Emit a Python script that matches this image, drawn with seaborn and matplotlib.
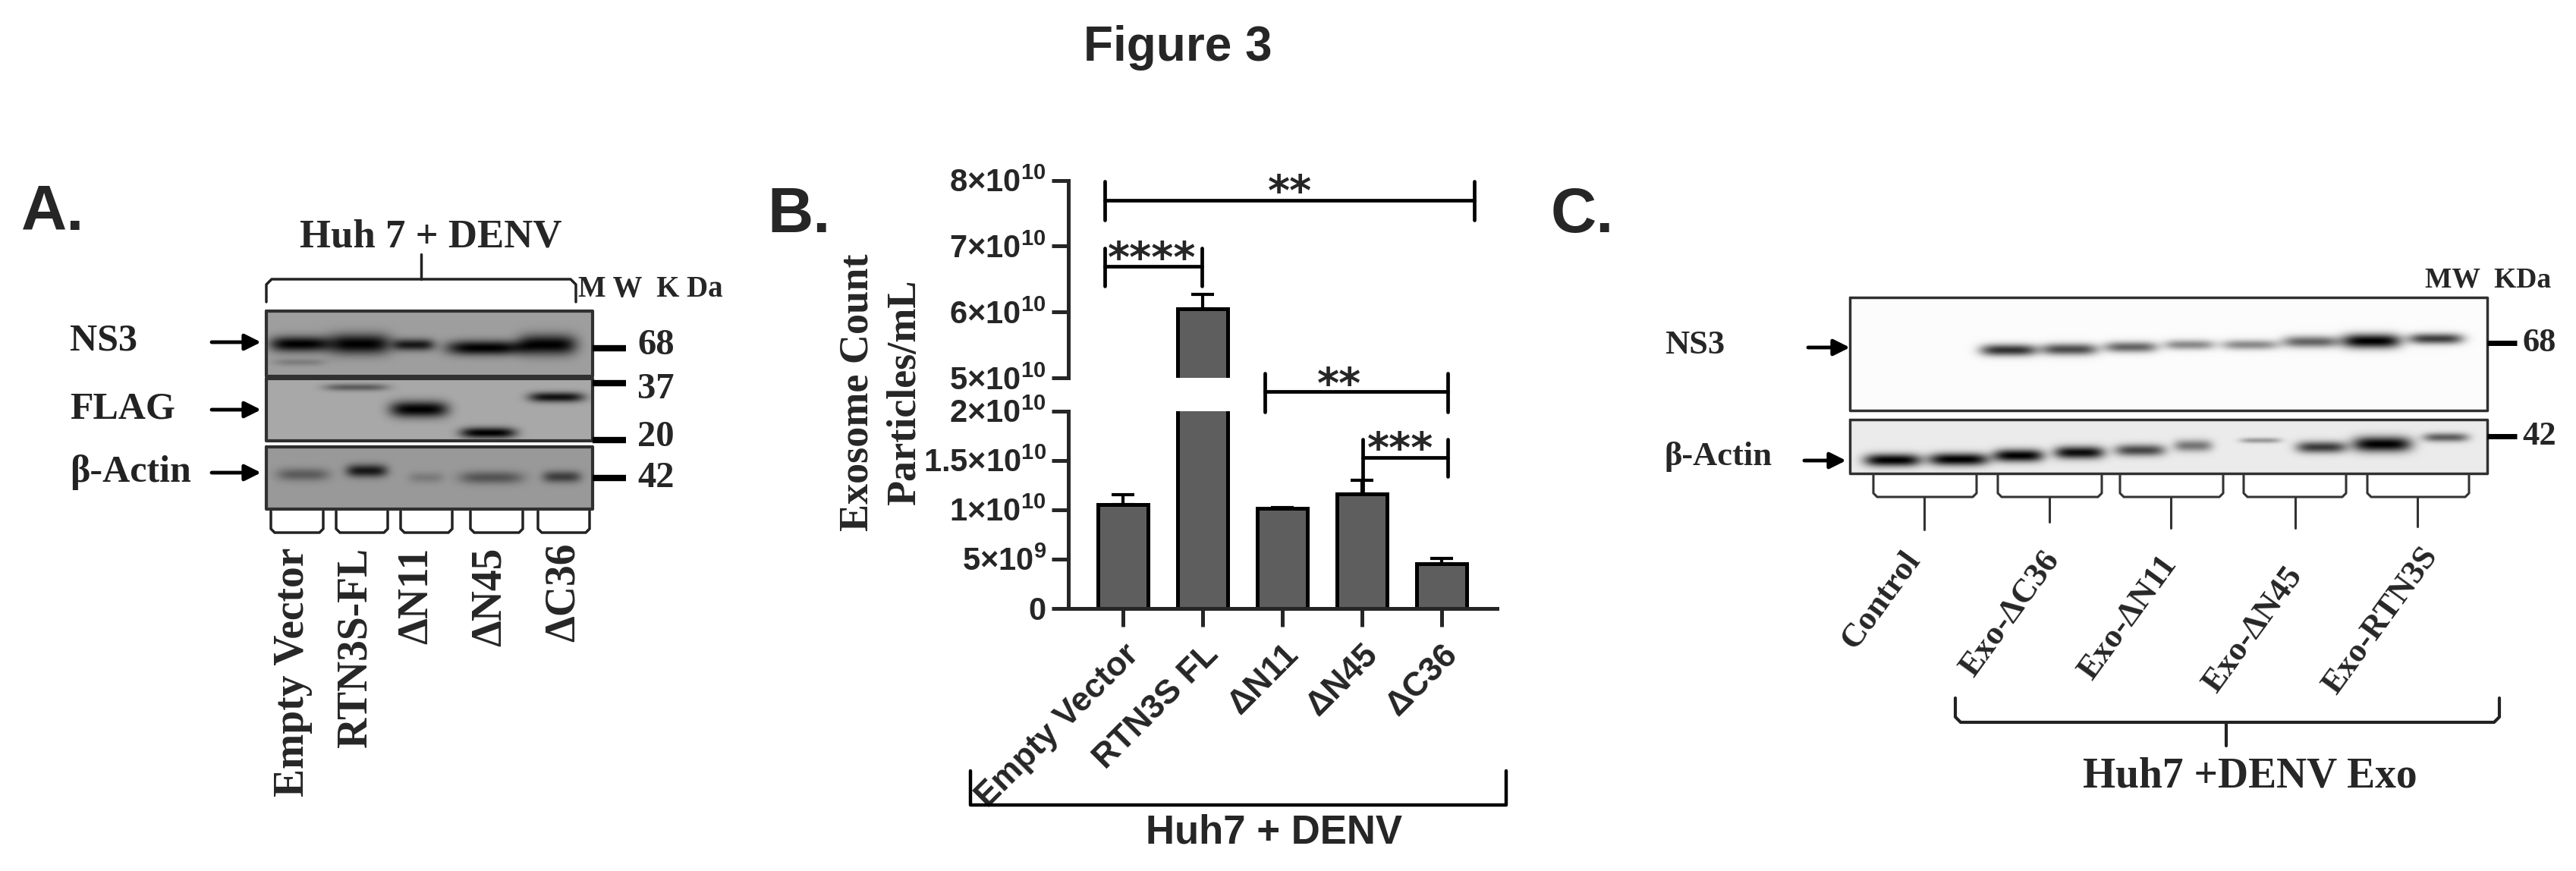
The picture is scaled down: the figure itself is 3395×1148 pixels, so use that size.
import numpy as np
import pandas as pd
import matplotlib
matplotlib.use("Agg")
import matplotlib.pyplot as plt
import seaborn as sns


OUTPUT_PATH = "out.png"
W, H = 3395, 1148

# Panel B values
groups = ["Empty Vector", "RTN3S FL", "ΔN11", "ΔN45", "ΔC36"]
exosome_mean = [1.047e10, 6.05e10, 1.01e10, 1.158e10, 0.45e10]
exosome_err = [0.103e10, 0.22e10, 0.01e10, 0.142e10, 0.057e10]

upper_ticks = [5e10, 6e10, 7e10, 8e10]
upper_labels = ["5×10^{10}", "6×10^{10}", "7×10^{10}", "8×10^{10}"]
lower_ticks = [0, 5e9, 1e10, 1.5e10, 2e10]
lower_labels = ["0", "5×10^{9}", "1×10^{10}", "1.5×10^{10}", "2×10^{10}"]

# Blot bands: x centre, y centre, width, height, darkness
a_ns3_bands = [(394, 453, 64, 17, 1), (473, 453, 70, 22, 1), (545, 454, 45, 13, .85),
               (638, 458, 83, 16, 1), (721, 454, 64, 22, 1), (394, 477, 57, 8, .2)]
a_flag_bands = [(469, 510, 70, 8, .45), (552, 539, 64, 18, 1),
                (643, 570, 61, 12, 1), (733, 523, 61, 11, .9)]
a_actin_bands = [(399, 625, 57, 14, .4), (483, 620, 45, 14, .85), (561, 629, 38, 12, .2),
                 (647, 629, 70, 14, .45), (740, 628, 42, 13, .6)]
c_ns3_bands = [(2647, 461, 62, 13, .8), (2727, 460, 62, 13, .7), (2808, 457, 58, 12, .6),
               (2885, 454, 55, 11, .45), (2965, 454, 62, 11, .45), (3045, 450, 62, 13, .6),
               (3125, 449, 65, 16, 1), (3210, 446, 60, 12, .75)]
c_actin_bands = [(2494, 606, 62, 14, 1), (2581, 605, 66, 14, 1), (2660, 600, 55, 14, 1),
                 (2740, 596, 55, 14, .95), (2820, 593, 55, 13, .7), (2890, 587, 42, 13, .5),
                 (2979, 580, 45, 6, .35), (3059, 589, 55, 13, .75), (3139, 585, 65, 17, 1),
                 (3223, 576, 50, 10, .6)]

a_lanes = ["Empty Vector", "RTN3S-FL", "ΔN11", "ΔN45", "ΔC36"]
c_lanes = ["Control", "Exo-ΔC36", "Exo-ΔN11", "Exo-ΔN45", "Exo-RTN3S"]

SANS = "Liberation Sans"
SERIF = ["Liberation Serif", "DejaVu Serif"]


def axes_px(fig, x0, y0, x1, y1):
    return fig.add_axes([x0 / W, 1 - y1 / H, (x1 - x0) / W, (y1 - y0) / H])


def draw_blot(ax, x0, y0, x1, y1, background, bands, edge="#303030", lw=3):
    xx, yy = np.meshgrid(np.arange(x0, x1), np.arange(y0, y1))
    ink = np.zeros_like(xx, dtype=float)
    for xc, yc, w, h, dark in bands:
        ink += dark * np.exp(-(((xx - xc) / (0.6 * w)) ** 4) - ((yy - yc) / (0.6 * h)) ** 2)
    img = background * (1 - np.clip(ink, 0, 1))
    ax.imshow(img, extent=(x0, x1, y1, y0), cmap="gray", vmin=0, vmax=1,
              aspect="auto", interpolation="bilinear", zorder=1)
    ax.plot([x0, x1, x1, x0, x0], [y0, y0, y1, y1, y0], color=edge, lw=lw, zorder=2)


def arrow(ax, x0, x1, y):
    ax.annotate("", xy=(x1, y), xytext=(x0, y),
                arrowprops=dict(arrowstyle="-|>", color="black", lw=3.5,
                                mutation_scale=32, shrinkA=0, shrinkB=0))


def soft_bracket(ax, left, right, open_y, closed_y, color, lw, corner=7):
    # Bracket with clipped corners, open end at open_y
    sign = 1 if closed_y > open_y else -1
    ax.plot([left, left, left + corner, right - corner, right, right],
            [open_y, closed_y - sign * corner, closed_y, closed_y,
             closed_y - sign * corner, open_y], color=color, lw=lw)


def sig_bracket(ax, x0, x1, y, top, bottom, bottom_right, label, label_x, label_y):
    ax.plot([x0, x0], [top, bottom], color="black", lw=3.4)
    ax.plot([x1, x1], [top, bottom_right], color="black", lw=3.4)
    ax.plot([x0, x1], [y, y], color="black", lw=3.4)
    ax.text(label_x, label_y + 31, label, family="DejaVu Sans", weight="bold", fontsize=40,
            ha="center", va="baseline")


def panel_a(ax):
    ax.text(28, 303, "A.", family=SANS, weight="bold", fontsize=60, va="baseline")
    draw_blot(ax, 351, 410, 781, 496, 0.62, a_ns3_bands)
    draw_blot(ax, 351, 499, 781, 581, 0.66, a_flag_bands)
    draw_blot(ax, 351, 589, 781, 671, 0.60, a_actin_bands)

    ax.text(568, 312, "Huh 7 + DENV", family=SERIF, weight="bold", fontsize=38,
            ha="center", va="center")
    soft_bracket(ax, 351, 759, 398, 368, "#222222", 2.5)
    ax.plot([555, 555], [335, 368], color="#222222", lw=2.5)
    ax.text(762, 381, "M W  K Da", family=SERIF, weight="bold", fontsize=28, va="center")

    for name, y in zip(["NS3", "FLAG", "β-Actin"], [450, 539, 622]):
        ax.text(92, y, name, family=SERIF, weight="bold", fontsize=36, va="center",
                color="#222222")
        arrow(ax, 279, 344, y + 1)

    for name, tick_y, text_y in zip(["68", "37", "20", "42"], [459, 505, 580, 630],
                                    [455, 513, 576, 630]):
        ax.plot([781, 825], [tick_y, tick_y], color="black", lw=6, solid_capstyle="butt")
        ax.text(840, text_y, name, family=SERIF, weight="bold", fontsize=35, va="center")

    lane_left = [357, 443, 528, 620, 709]
    lane_right = [426, 511, 596, 689, 777]
    for left, right in zip(lane_left, lane_right):
        soft_bracket(ax, left, right, 674, 702, "#222222", 2.5, corner=5)
    for name, x, top in zip(a_lanes, [386, 469, 549, 646, 743], [722, 722, 722, 722, 716]):
        ax.text(x, top, name, family=SERIF, weight="bold", fontsize=40, rotation=90,
                ha="center", va="top")


def panel_b(fig, ax):
    ax.text(1011, 306, "B.", family=SANS, weight="bold", fontsize=60, va="baseline")

    table = pd.DataFrame({"group": groups, "mean": exosome_mean})
    ax_top = axes_px(fig, 1408, 237.5, 1973, 498)
    ax_bottom = axes_px(fig, 1408, 541.6, 1973, 801.6)

    for part, ticks, labels, limits in [(ax_top, upper_ticks, upper_labels, (5e10, 8e10)),
                                        (ax_bottom, lower_ticks, lower_labels, (0, 2e10))]:
        sns.barplot(data=table, x="group", y="mean", color="#5e5e5e", edgecolor="black",
                    linewidth=3.6, width=0.62, saturation=1, ax=part)
        part.errorbar(range(len(groups)), exosome_mean,
                      yerr=[np.zeros(len(groups)), exosome_err], fmt="none",
                      ecolor="black", elinewidth=3, capsize=11, capthick=3, zorder=1)
        part.set_xlim(-0.686, 4.695)
        part.set_ylim(*limits)
        part.set_yticks(ticks)
        part.set_yticklabels(["$\\mathbf{" + t + "}$" for t in labels], fontsize=30)
        part.tick_params(axis="y", length=16, width=3.6, pad=5, left=True)
        part.set_xlabel("")
        part.set_ylabel("")
        part.patch.set_alpha(0)
        sns.despine(ax=part, top=True, right=True)
        part.spines["left"].set_linewidth(3.6)

    ax_top.spines["bottom"].set_visible(False)
    ax_top.tick_params(axis="x", bottom=False, labelbottom=False)
    ax_bottom.spines["bottom"].set_linewidth(3.6)
    ax_bottom.set_xticks(range(len(groups)))
    ax_bottom.set_xticklabels(groups, rotation=45, ha="right", rotation_mode="anchor",
                              family=SANS, weight="bold", fontsize=32)
    ax_bottom.tick_params(axis="x", length=17, width=3.6, pad=12, bottom=True)

    ax.text(1131, 517, "Exosome Count", family=SERIF, weight="bold", fontsize=39,
            rotation=90, ha="center", va="center")
    ax.text(1193, 517, "Particles/mL", family=SERIF, weight="bold", fontsize=39,
            rotation=90, ha="center", va="center")

    sig_bracket(ax, 1456, 1943, 263.5, 239, 289.5, 289.5, "**", 1700, 239)
    sig_bracket(ax, 1456, 1584, 351, 327, 376.5, 376.5, "****", 1518, 327)
    sig_bracket(ax, 1667, 1908, 516, 492, 543, 543, "**", 1765, 493)
    sig_bracket(ax, 1796, 1908, 603, 579, 650, 628, "***", 1846, 578)

    ax.plot([1279, 1279, 1985, 1985], [1016, 1061, 1061, 1016], color="black", lw=3.2)
    ax.text(1679, 1098, "Huh7 + DENV", family=SANS, weight="bold", fontsize=38,
            ha="center", va="center")


def panel_c(ax):
    ax.text(2044, 306, "C.", family=SANS, weight="bold", fontsize=60, va="baseline")
    draw_blot(ax, 2438, 392, 3278, 541, 0.985, c_ns3_bands, lw=2.5)
    draw_blot(ax, 2438, 553, 3278, 624, 0.92, c_actin_bands, lw=2.5)

    ax.text(3279, 369, "MW  KDa", family=SERIF, weight="bold", fontsize=27, va="center",
            ha="center")
    ax.text(2194, 455, "NS3", family=SERIF, weight="bold", fontsize=32, va="center")
    ax.text(2194, 602, "β-Actin", family=SERIF, weight="bold", fontsize=32, va="center")
    arrow(ax, 2383, 2438, 458)
    arrow(ax, 2378, 2433, 607)

    for name, y in zip(["68", "42"], [452, 575]):
        ax.plot([3278, 3317], [y, y], color="black", lw=5, solid_capstyle="butt")
        ax.text(3324, y, name, family=SERIF, weight="bold", fontsize=32, va="center")

    lane_left = [2469, 2633, 2794, 2957, 3120]
    lane_right = [2605, 2770, 2930, 3092, 3254]
    lane_mid = [2536, 2701, 2861, 3025, 3186]
    lane_end = [698, 688, 696, 696, 694]
    for left, right, mid, end in zip(lane_left, lane_right, lane_mid, lane_end):
        soft_bracket(ax, left, right, 625, 655, "#333333", 2.2, corner=5)
        ax.plot([mid, mid], [655, end], color="#333333", lw=2.2)

    label_x = [2507, 2690, 2845, 3010, 3188]
    label_y = [719, 719, 725, 740, 714]
    for name, x, y in zip(c_lanes, label_x, label_y):
        ax.text(x, y, name, family=SERIF, weight="bold", fontsize=32, rotation=54,
                ha="right", va="top", rotation_mode="anchor")

    soft_bracket(ax, 2577, 3294, 920, 952, "#222222", 3)
    ax.plot([2934, 2934], [952, 983], color="#222222", lw=3)
    ax.text(2965, 1024, "Huh7 +DENV Exo", family=SERIF, weight="bold", fontsize=40,
            ha="center", va="center")


def plot_figure():
    sns.set_theme(style="white")
    plt.rcParams["font.family"] = [SANS, "DejaVu Sans"]
    plt.rcParams["mathtext.fontset"] = "custom"
    plt.rcParams["mathtext.bf"] = "Liberation Sans:bold"
    plt.rcParams["mathtext.rm"] = "Liberation Sans"

    fig = plt.figure(figsize=(W / 100, H / 100), dpi=100, facecolor="white")

    # Overlay in pixel coordinates for blots and annotation
    overlay = fig.add_axes([0, 0, 1, 1], zorder=5)
    overlay.patch.set_alpha(0)
    overlay.axis("off")

    overlay.text(1552, 63, "Figure 3", family=SANS, weight="bold", fontsize=46,
                 ha="center", va="center")
    panel_a(overlay)
    panel_b(fig, overlay)
    panel_c(overlay)

    overlay.set_xlim(0, W)
    overlay.set_ylim(H, 0)

    fig.savefig(OUTPUT_PATH, dpi=100)


if __name__ == "__main__":

    plot_figure()
